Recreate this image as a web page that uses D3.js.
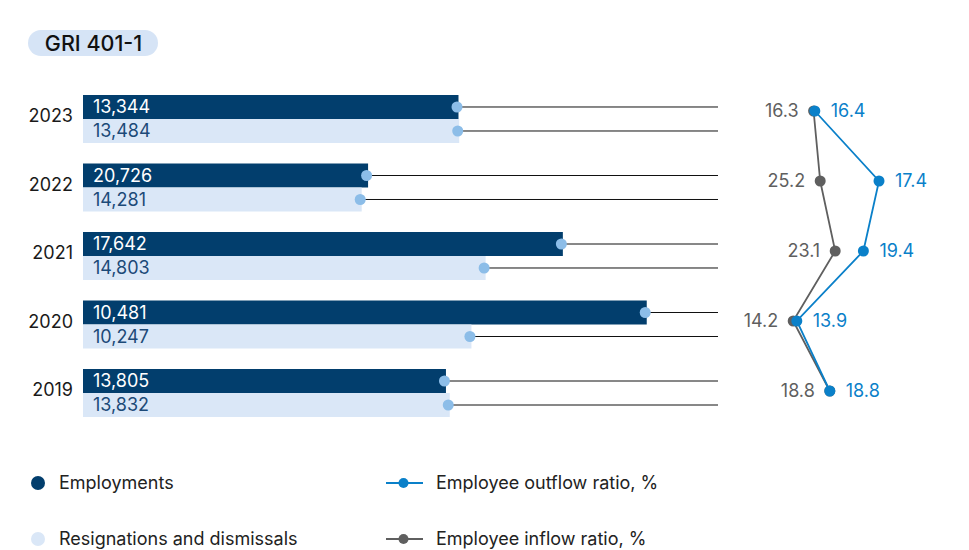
<!DOCTYPE html>
<html>
<head>
<meta charset="utf-8">
<script src="https://cdn.jsdelivr.net/npm/d3@7/dist/d3.min.js"></script>
<style>
  body { margin: 0; background: #fff; }
  svg { display: block; font-family: Inter, "Noto Sans", sans-serif; }
</style>
</head>
<body>
<div id="chart"></div>
<script>
// rows top to bottom
var years = ["2023", "2022", "2021", "2020", "2019"];
var employments = [13344, 20726, 17642, 10481, 13805];
var resignations = [13484, 14281, 14803, 10247, 13832];
var outflowRatio = [16.4, 17.4, 19.4, 13.9, 18.8];
var inflowRatio = [16.3, 25.2, 23.1, 14.2, 18.8];
// horizontal placement of the ratio points as drawn in the reference (0-100 track units)
var outflowPlace = [29, 82.5, 69.5, 14, 41.5];
var inflowPlace = [28, 33.5, 46, 11, 41.5];
var legendItems = ["Employments", "Resignations and dismissals", "Employee outflow ratio, %", "Employee inflow ratio, %"];

var width = 969, height = 550;
var n = years.length;
var fmt = d3.format(",");
var fs = 18;

var svg = d3.select("#chart")
	.append("svg")
	.attr("width", width)
	.attr("height", height);

// badge
svg.append("rect")
	.attr("x", 28).attr("y", 30)
	.attr("width", 130).attr("height", 26)
	.attr("rx", 13)
	.attr("fill", "#d6e4f6");
svg.append("text")
	.attr("x", 93.5).attr("y", 43)
	.attr("dy", "0.36em")
	.attr("text-anchor", "middle")
	.attr("font-size", 21.5)
	.attr("font-weight", 500)
	.attr("fill", "#111")
	.text("GRI 401-1");

// the reference draws the bar lengths in reverse row order; kept so the picture matches
var rows = years.map(function (y, i) {
	return {
		year: y,
		emp: employments[i],
		res: resignations[i],
		empBar: employments[n - 1 - i],
		resBar: resignations[n - 1 - i]
	};
});

var x = d3.scaleLinear()
	.domain([0, 23346])
	.range([83, 718]);

var y = d3.scaleBand()
	.domain(years)
	.range([95, 417])
	.paddingInner(0.2993);

var bw = y.bandwidth() / 2;

var g = svg.append("g");

var row = g.selectAll(".row")
	.data(rows)
	.enter()
	.append("g")
	.attr("class", "row")
	.attr("transform", function (d) { return "translate(0," + y(d.year) + ")"; });

// connector lines
row.append("line")
	.attr("x1", function (d) { return x(d.empBar); })
	.attr("x2", x.range()[1])
	.attr("y1", bw / 2).attr("y2", bw / 2)
	.attr("stroke", "#111").attr("stroke-width", 1);
row.append("line")
	.attr("x1", function (d) { return x(d.resBar); })
	.attr("x2", x.range()[1])
	.attr("y1", bw * 1.5).attr("y2", bw * 1.5)
	.attr("stroke", "#111").attr("stroke-width", 1);

row.append("rect")
	.attr("x", x(0))
	.attr("y", 0)
	.attr("width", function (d) { return x(d.empBar) - x(0); })
	.attr("height", bw)
	.attr("fill", "#023e6d");
row.append("rect")
	.attr("x", x(0))
	.attr("y", bw)
	.attr("width", function (d) { return x(d.resBar) - x(0); })
	.attr("height", bw)
	.attr("fill", "#dae7f7");

row.append("circle")
	.attr("cx", function (d) { return x(d.empBar) - 1.5; })
	.attr("cy", bw / 2)
	.attr("r", 5.5)
	.attr("fill", "#8cbde8");
row.append("circle")
	.attr("cx", function (d) { return x(d.resBar) - 1.5; })
	.attr("cy", bw * 1.5)
	.attr("r", 5.5)
	.attr("fill", "#8cbde8");

row.append("text")
	.attr("x", x(0) + 10)
	.attr("y", bw / 2)
	.attr("dy", "0.36em")
	.attr("font-size", fs)
	.attr("fill", "#fff")
	.text(function (d) { return fmt(d.emp); });
row.append("text")
	.attr("x", x(0) + 10)
	.attr("y", bw * 1.5)
	.attr("dy", "0.36em")
	.attr("font-size", fs)
	.attr("fill", "#1c4a78")
	.text(function (d) { return fmt(d.res); });

row.append("text")
	.attr("x", x(0) - 10)
	.attr("y", bw - 3)
	.attr("dy", "0.36em")
	.attr("text-anchor", "end")
	.attr("font-size", fs)
	.attr("fill", "#1a1a1a")
	.text(function (d) { return d.year; });

// ratio lines
var xr = d3.scaleLinear().domain([0, 100]).range([780, 900]);
var yr = d3.scalePoint().domain(years).range([111, 391]);

var inflowPts = years.map(function (yy, i) { return { year: yy, v: inflowRatio[i], p: inflowPlace[i] }; });
var outflowPts = years.map(function (yy, i) { return { year: yy, v: outflowRatio[i], p: outflowPlace[i] }; });

var line = d3.line()
	.x(function (d) { return xr(d.p); })
	.y(function (d) { return yr(d.year); });

svg.append("path")
	.datum(inflowPts)
	.attr("d", line)
	.attr("fill", "none")
	.attr("stroke", "#5f5f5f")
	.attr("stroke-width", 1.8);
svg.selectAll(".inDot")
	.data(inflowPts)
	.enter()
	.append("circle")
	.attr("class", "inDot")
	.attr("cx", function (d) { return xr(d.p); })
	.attr("cy", function (d) { return yr(d.year); })
	.attr("r", 5.5)
	.attr("fill", "#5f5f5f");

svg.append("path")
	.datum(outflowPts)
	.attr("d", line)
	.attr("fill", "none")
	.attr("stroke", "#0a80c9")
	.attr("stroke-width", 1.8);
svg.selectAll(".outDot")
	.data(outflowPts)
	.enter()
	.append("circle")
	.attr("class", "outDot")
	.attr("cx", function (d) { return xr(d.p); })
	.attr("cy", function (d) { return yr(d.year); })
	.attr("r", 5.5)
	.attr("fill", "#0a80c9");

svg.selectAll(".inLabel")
	.data(inflowPts)
	.enter()
	.append("text")
	.attr("class", "inLabel")
	.attr("x", function (d) { return xr(d.p) - 15; })
	.attr("y", function (d) { return yr(d.year); })
	.attr("dy", "0.36em")
	.attr("text-anchor", "end")
	.attr("font-size", fs)
	.attr("fill", "#5f5f5f")
	.text(function (d) { return d.v.toFixed(1); });

svg.selectAll(".outLabel")
	.data(outflowPts)
	.enter()
	.append("text")
	.attr("class", "outLabel")
	.attr("x", function (d) { return xr(d.p) + 16; })
	.attr("y", function (d) { return yr(d.year); })
	.attr("dy", "0.36em")
	.attr("font-size", fs)
	.attr("fill", "#0a80c9")
	.text(function (d) { return d.v.toFixed(1); });

// legend
var legend = svg.append("g");
var lg0 = legend.append("g").attr("transform", "translate(38,483)");
lg0.append("circle").attr("r", 7).attr("fill", "#023e6d");
lg0.append("text").attr("x", 21).attr("dy", "0.36em").attr("font-size", fs).attr("fill", "#222").text(legendItems[0]);

var lg1 = legend.append("g").attr("transform", "translate(38,539)");
lg1.append("circle").attr("r", 7).attr("fill", "#dae7f7");
lg1.append("text").attr("x", 21).attr("dy", "0.36em").attr("font-size", fs).attr("fill", "#222").text(legendItems[1]);

var lg2 = legend.append("g").attr("transform", "translate(386,483)");
lg2.append("line").attr("x1", 0).attr("x2", 37).attr("stroke", "#0a80c9").attr("stroke-width", 2);
lg2.append("circle").attr("cx", 17.5).attr("r", 5).attr("fill", "#0a80c9");
lg2.append("text").attr("x", 50).attr("dy", "0.36em").attr("font-size", fs).attr("fill", "#222").text(legendItems[2]);

var lg3 = legend.append("g").attr("transform", "translate(386,539)");
lg3.append("line").attr("x1", 0).attr("x2", 37).attr("stroke", "#5f5f5f").attr("stroke-width", 2);
lg3.append("circle").attr("cx", 17.5).attr("r", 5).attr("fill", "#5f5f5f");
lg3.append("text").attr("x", 50).attr("dy", "0.36em").attr("font-size", fs).attr("fill", "#222").text(legendItems[3]);
</script>
</body>
</html>
